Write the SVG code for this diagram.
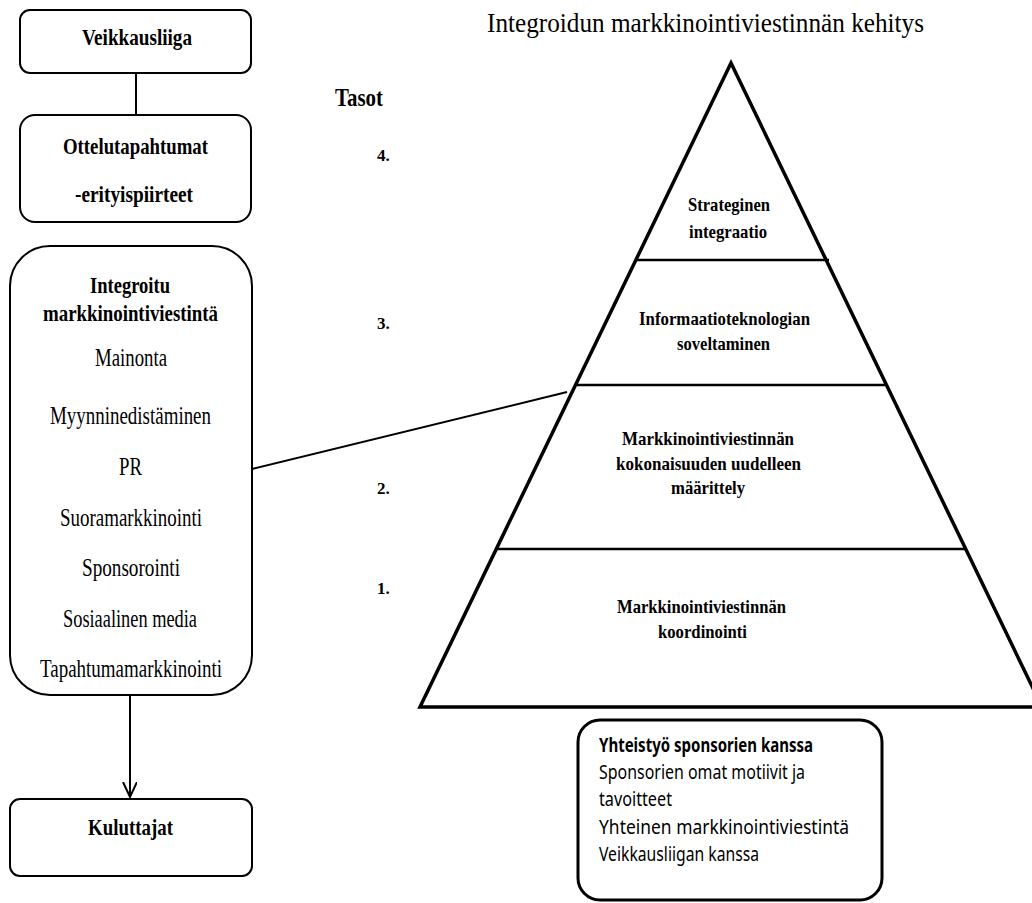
<svg xmlns="http://www.w3.org/2000/svg" width="1032" height="903" viewBox="0 0 1032 903">
<style>
.box{fill:#fff;stroke:#000;stroke-width:2}
.sb{fill:#fff;stroke:#000;stroke-width:3}
.b{font-family:"Liberation Serif","Times New Roman",serif;font-weight:bold;font-size:23px;fill:#000}
.r{font-family:"Liberation Serif","Times New Roman",serif;font-size:26px;fill:#000}
.pb{font-family:"Liberation Serif","Times New Roman",serif;font-weight:bold;font-size:19px;fill:#000}
.num{font-family:"Liberation Serif","Times New Roman",serif;font-weight:bold;font-size:17px;fill:#000}
.s{font-family:"Noto Sans","Open Sans",sans-serif;font-size:19px;fill:#000}
.sbold{font-family:"Noto Sans","Open Sans",sans-serif;font-size:19px;font-weight:bold;fill:#000}
.ln{stroke:#000;stroke-width:2;fill:none}
.pyr{fill:none;stroke:#000;stroke-width:3.5}
.div{stroke:#000;stroke-width:2.5}
</style>
<defs>
<marker id="open" markerWidth="16" markerHeight="16" refX="15" refY="7" orient="auto" markerUnits="userSpaceOnUse">
<path d="M0,0 L15,7 L0,14" fill="none" stroke="#000" stroke-width="2"/>
</marker>
</defs>

<g id="connectors">
<line class="ln" x1="136" y1="73" x2="136" y2="115"/>
<line class="ln" x1="130" y1="695" x2="130" y2="797" marker-end="url(#open)"/>
<line class="ln" x1="252" y1="469" x2="567" y2="392"/>
</g>

<g id="veikkausliiga">
<rect class="box" x="20" y="10" width="231" height="63" rx="10"/>
<text class="b" x="82" y="45" textLength="110" lengthAdjust="spacingAndGlyphs">Veikkausliiga</text>
</g>

<g id="ottelutapahtumat">
<rect class="box" x="20" y="115" width="231" height="107" rx="15"/>
<text class="b" x="63" y="154" textLength="145" lengthAdjust="spacingAndGlyphs">Ottelutapahtumat</text>
<text class="b" x="75" y="202" textLength="118" lengthAdjust="spacingAndGlyphs">-erityispiirteet</text>
</g>

<g id="integroitu">
<rect class="box" x="10" y="246" width="242" height="449" rx="40"/>
<text class="b" x="90" y="293" textLength="80" lengthAdjust="spacingAndGlyphs">Integroitu</text>
<text class="b" x="43" y="321" textLength="175" lengthAdjust="spacingAndGlyphs">markkinointiviestintä</text>
<text class="r" x="95" y="366" textLength="72" lengthAdjust="spacingAndGlyphs">Mainonta</text>
<text class="r" x="50" y="424" textLength="161" lengthAdjust="spacingAndGlyphs">Myynninedistäminen</text>
<text class="r" x="119" y="475" textLength="23" lengthAdjust="spacingAndGlyphs">PR</text>
<text class="r" x="60" y="526" textLength="142" lengthAdjust="spacingAndGlyphs">Suoramarkkinointi</text>
<text class="r" x="82" y="576" textLength="98" lengthAdjust="spacingAndGlyphs">Sponsorointi</text>
<text class="r" x="63" y="627" textLength="134" lengthAdjust="spacingAndGlyphs">Sosiaalinen media</text>
<text class="r" x="40" y="677" textLength="182" lengthAdjust="spacingAndGlyphs">Tapahtumamarkkinointi</text>
</g>

<g id="kuluttajat">
<rect class="box" x="10" y="799" width="242" height="77" rx="10"/>
<text class="b" x="88" y="835" textLength="85" lengthAdjust="spacingAndGlyphs">Kuluttajat</text>
</g>

<g id="title">
<text class="r" style="font-size:28px" x="487" y="32" textLength="437" lengthAdjust="spacingAndGlyphs">Integroidun markkinointiviestinnän kehitys</text>
</g>

<g id="tasot">
<text class="b" style="font-size:25px" x="335" y="106" textLength="48" lengthAdjust="spacingAndGlyphs">Tasot</text>
<text class="num" x="377" y="161">4.</text>
<text class="num" x="377" y="329">3.</text>
<text class="num" x="377" y="494">2.</text>
<text class="num" x="377" y="594">1.</text>
</g>

<g id="pyramid">
<polygon class="pyr" points="731,63 420,707 1042,707"/>
<line class="div" x1="636" y1="260" x2="829" y2="260"/>
<line class="div" x1="577" y1="385" x2="886" y2="385"/>
<line class="div" x1="496" y1="549" x2="966" y2="549"/>
</g>

<g id="level4">
<text class="pb" x="688" y="211" textLength="82" lengthAdjust="spacingAndGlyphs">Strateginen</text>
<text class="pb" x="689" y="238" textLength="78" lengthAdjust="spacingAndGlyphs">integraatio</text>
</g>

<g id="level3">
<text class="pb" x="639" y="325" textLength="171" lengthAdjust="spacingAndGlyphs">Informaatioteknologian</text>
<text class="pb" x="677" y="350" textLength="93" lengthAdjust="spacingAndGlyphs">soveltaminen</text>
</g>

<g id="level2">
<text class="pb" x="622" y="445" textLength="172" lengthAdjust="spacingAndGlyphs">Markkinointiviestinnän</text>
<text class="pb" x="616" y="470" textLength="185" lengthAdjust="spacingAndGlyphs">kokonaisuuden uudelleen</text>
<text class="pb" x="671" y="494" textLength="74" lengthAdjust="spacingAndGlyphs">määrittely</text>
</g>

<g id="level1">
<text class="pb" x="617" y="613" textLength="169" lengthAdjust="spacingAndGlyphs">Markkinointiviestinnän</text>
<text class="pb" x="658" y="638" textLength="89" lengthAdjust="spacingAndGlyphs">koordinointi</text>
</g>

<g id="sponsorit">
<rect class="sb" x="578" y="720" width="304" height="180" rx="22"/>
<text class="sbold" x="599" y="752" textLength="214" lengthAdjust="spacingAndGlyphs">Yhteistyö sponsorien kanssa</text>
<text class="s" x="599" y="779" textLength="206" lengthAdjust="spacingAndGlyphs">Sponsorien omat motiivit ja</text>
<text class="s" x="599" y="806" textLength="73" lengthAdjust="spacingAndGlyphs">tavoitteet</text>
<text class="s" x="599" y="834" textLength="250" lengthAdjust="spacingAndGlyphs">Yhteinen markkinointiviestintä</text>
<text class="s" x="599" y="861" textLength="160" lengthAdjust="spacingAndGlyphs">Veikkausliigan kanssa</text>
</g>
</svg>
